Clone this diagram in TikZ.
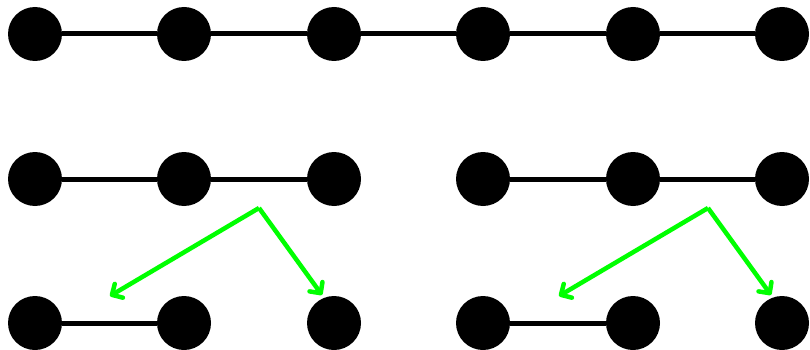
\documentclass[tikz,border=0pt]{standalone}
\usetikzlibrary{arrows.meta}
\begin{document}
\begin{tikzpicture}[x=1pt, y=-1pt]
    % Define colours
    \definecolor{dotColour}{HTML}{000000}
    \definecolor{splitColour}{HTML}{00FF00}

    % Styles
    \tikzset{
        dot/.style={circle, fill=dotColour, inner sep=0pt, minimum size=54pt},
        link/.style={draw=dotColour, line width=5pt},
        split/.style={draw=splitColour, line width=4.5pt, -{Straight Barb[length=8pt,width=16pt,round]}}
    }

    % Fix the canvas
    \useasboundingbox (0,0) rectangle (810,350);

    % Draw the three rows of dots
    \foreach \i/\x in {1/35, 2/184, 3/334, 4/483, 5/633, 6/782} {
        \node[dot] (t\i) at (\x,34) {};
        \node[dot] (m\i) at (\x,179) {};
        \node[dot] (b\i) at (\x,323) {};
    }

    % Draw links
    \draw[link] (t1) -- (t2) -- (t3) -- (t4) -- (t5) -- (t6);
    \draw[link] (m1) -- (m2) -- (m3);
    \draw[link] (m4) -- (m5) -- (m6);
    \draw[link] (b1) -- (b2);
    \draw[link] (b4) -- (b5);

    % Arrow end points
    \coordinate (cutL) at (259,208);
    \coordinate (cutR) at (708,208);
    \coordinate (endL1) at (110,296);
    \coordinate (endL2) at (322,295);
    \coordinate (endR1) at (559,296);
    \coordinate (endR2) at (771,295);

    % Draw splits
    \draw[split] (cutL) -- (endL1);
    \draw[split] (cutL) -- (endL2);
    \draw[split] (cutR) -- (endR1);
    \draw[split] (cutR) -- (endR2);

\end{tikzpicture}
\end{document}
